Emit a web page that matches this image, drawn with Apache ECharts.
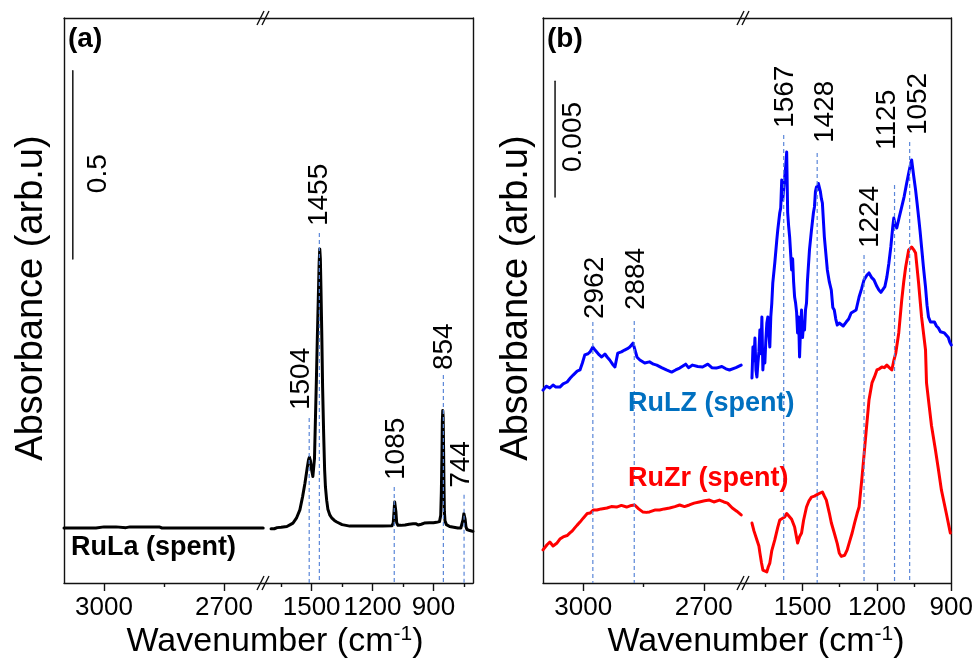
<!DOCTYPE html>
<html><head><meta charset="utf-8">
<script src="https://cdn.jsdelivr.net/npm/echarts@6/dist/echarts.min.js"></script>
<style>html,body{margin:0;padding:0;background:#fff}#main{width:976px;height:665px}</style>
</head><body><div id="main"></div>
<script>
// ---------------- DATA ----------------
// Panel (a): RuLa (spent), high-wavenumber segment and fingerprint segment
const ruLaHigh = [[3100,0.146],[3060,0.146],[3020,0.146],[3000,0.149],[2970,0.149],[2945,0.147],[2935,0.149],[2900,0.149],[2862,0.149],[2855,0.146],[2800,0.146],[2700,0.146],[2650,0.146],[2602,0.146]];
const ruLaLow = [[1700,0.144],[1692,0.141],[1684,0.144],[1670,0.147],[1650,0.148],[1622,0.150],[1605,0.155],[1592,0.159],[1575,0.172],[1558,0.194],[1545,0.228],[1533,0.265],[1522,0.305],[1515,0.328],[1511,0.334],[1506,0.325],[1500,0.300],[1494,0.283],[1490,0.280],[1486,0.330],[1482,0.420],[1477,0.530],[1472,0.650],[1467,0.760],[1463,0.850],[1460,0.887],[1457,0.860],[1454,0.780],[1450,0.660],[1446,0.520],[1441,0.400],[1436,0.300],[1432,0.255],[1426,0.220],[1420,0.196],[1410,0.180],[1400,0.172],[1388,0.166],[1376,0.162],[1350,0.155],[1312,0.151],[1250,0.151],[1150,0.151],[1104,0.152],[1098,0.160],[1094,0.190],[1091,0.215],[1088,0.214],[1085,0.190],[1081,0.160],[1075,0.153],[1060,0.153],[1040,0.154],[1020,0.156],[1000,0.157],[985,0.157],[975,0.154],[968,0.159],[960,0.156],[945,0.159],[920,0.160],[900,0.160],[885,0.161],[870,0.163],[864,0.180],[861,0.240],[858,0.340],[856,0.430],[854,0.458],[852,0.440],[850,0.360],[848,0.260],[846,0.190],[843,0.165],[836,0.155],[820,0.150],[800,0.148],[780,0.146],[765,0.146],[758,0.150],[754,0.168],[750,0.184],[747,0.186],[744,0.170],[740,0.150],[735,0.142],[725,0.140],[712,0.138],[705,0.137]];

// Panel (b): RuLZ (spent) and RuZr (spent)
const ruLZHigh = [[3100,0.00833],[3092,0.00850],[3083,0.00842],[3075,0.00855],[3068,0.00846],[3058,0.00846],[3050,0.00860],[3040,0.00868],[3032,0.00885],[3025,0.00898],[3015,0.00915],[3008,0.00920],[3002,0.00950],[2996,0.00985],[2988,0.00990],[2983,0.00998],[2976,0.01019],[2970,0.01005],[2966,0.00998],[2960,0.00985],[2954,0.00976],[2946,0.00989],[2940,0.00975],[2934,0.00963],[2927,0.00945],[2921,0.00933],[2914,0.00993],[2905,0.00998],[2897,0.01006],[2890,0.01012],[2884,0.01019],[2876,0.01036],[2872,0.01030],[2866,0.00975],[2859,0.00963],[2847,0.00950],[2835,0.00955],[2825,0.00945],[2817,0.00941],[2805,0.00930],[2793,0.00920],[2780,0.00911],[2770,0.00920],[2760,0.00928],[2745,0.00945],[2738,0.00930],[2728,0.00941],[2715,0.00935],[2703,0.00933],[2690,0.00945],[2680,0.00930],[2669,0.00928],[2655,0.00935],[2645,0.00925],[2636,0.00920],[2620,0.00930],[2607,0.00941]];
const ruLZLow = [[1704,0.00885],[1700,0.01019],[1696,0.00960],[1692,0.01058],[1688,0.00920],[1684,0.00890],[1680,0.00950],[1676,0.01000],[1672,0.01093],[1668,0.00990],[1664,0.01149],[1660,0.00920],[1656,0.01000],[1652,0.00950],[1648,0.01050],[1644,0.01123],[1640,0.01149],[1636,0.01080],[1632,0.01019],[1628,0.01150],[1624,0.01209],[1620,0.01296],[1612,0.01382],[1604,0.01480],[1600,0.01524],[1592,0.01598],[1588,0.01620],[1584,0.01740],[1580,0.01654],[1576,0.01700],[1572,0.01753],[1568,0.01800],[1564,0.01861],[1560,0.01600],[1556,0.01540],[1552,0.01494],[1544,0.01352],[1540,0.01400],[1536,0.01300],[1532,0.01235],[1528,0.01209],[1524,0.01170],[1520,0.01080],[1516,0.01149],[1512,0.00976],[1508,0.01100],[1504,0.01179],[1500,0.01060],[1496,0.01120],[1492,0.01093],[1488,0.01180],[1484,0.01209],[1480,0.01309],[1472,0.01440],[1464,0.01524],[1456,0.01600],[1452,0.01624],[1448,0.01690],[1444,0.01710],[1440,0.01700],[1436,0.01725],[1432,0.01719],[1428,0.01690],[1424,0.01660],[1420,0.01641],[1412,0.01494],[1400,0.01352],[1392,0.01300],[1384,0.01265],[1378,0.01190],[1372,0.01179],[1366,0.01140],[1360,0.01114],[1352,0.01123],[1344,0.01123],[1336,0.01110],[1324,0.01127],[1314,0.01140],[1304,0.01166],[1296,0.01160],[1284,0.01179],[1272,0.01235],[1262,0.01270],[1252,0.01309],[1240,0.01330],[1232,0.01339],[1222,0.01320],[1212,0.01309],[1200,0.01280],[1192,0.01265],[1184,0.01255],[1176,0.01257],[1168,0.01280],[1160,0.01321],[1152,0.01380],[1144,0.01451],[1136,0.01540],[1132,0.01576],[1126,0.01545],[1120,0.01533],[1110,0.01580],[1100,0.01624],[1090,0.01670],[1080,0.01727],[1070,0.01780],[1064,0.01810],[1060,0.01827],[1052,0.01760],[1044,0.01697],[1038,0.01640],[1032,0.01581],[1026,0.01520],[1020,0.01451],[1012,0.01360],[1004,0.01278],[998,0.01200],[992,0.01149],[984,0.01127],[976,0.01120],[968,0.01127],[960,0.01110],[952,0.01101],[944,0.01085],[936,0.01093],[928,0.01080],[920,0.01080],[912,0.01060],[906,0.01040],[900,0.01028]];
const ruZrHigh = [[3100,0.00143],[3090,0.00165],[3083,0.00177],[3075,0.00160],[3065,0.00173],[3058,0.00190],[3050,0.00199],[3040,0.00205],[3033,0.00216],[3027,0.00225],[3021,0.00238],[3015,0.00250],[3008,0.00263],[3000,0.00280],[2996,0.00285],[2990,0.00300],[2983,0.00302],[2975,0.00315],[2966,0.00315],[2955,0.00320],[2941,0.00324],[2930,0.00330],[2917,0.00328],[2905,0.00335],[2892,0.00328],[2880,0.00335],[2872,0.00337],[2862,0.00320],[2852,0.00307],[2843,0.00305],[2835,0.00307],[2822,0.00315],[2810,0.00315],[2798,0.00320],[2785,0.00324],[2772,0.00330],[2760,0.00337],[2748,0.00330],[2736,0.00337],[2724,0.00345],[2711,0.00350],[2698,0.00355],[2686,0.00358],[2675,0.00350],[2661,0.00358],[2650,0.00350],[2641,0.00345],[2629,0.00324],[2618,0.00310],[2607,0.00294]];
const ruZrLow = [[1704,0.00259],[1696,0.00225],[1684,0.00186],[1676,0.00160],[1672,0.00130],[1666,0.00090],[1660,0.00056],[1652,0.00060],[1644,0.00048],[1638,0.00070],[1632,0.00086],[1624,0.00140],[1612,0.00186],[1600,0.00240],[1592,0.00272],[1584,0.00280],[1572,0.00285],[1564,0.00300],[1556,0.00290],[1552,0.00294],[1544,0.00275],[1532,0.00242],[1520,0.00173],[1512,0.00200],[1504,0.00216],[1496,0.00270],[1484,0.00328],[1474,0.00355],[1464,0.00371],[1452,0.00375],[1444,0.00380],[1436,0.00385],[1428,0.00390],[1420,0.00393],[1412,0.00375],[1404,0.00358],[1392,0.00302],[1384,0.00260],[1372,0.00216],[1360,0.00170],[1352,0.00130],[1344,0.00115],[1340,0.00108],[1330,0.00120],[1320,0.00143],[1310,0.00180],[1300,0.00216],[1290,0.00260],[1280,0.00300],[1272,0.00328],[1260,0.00458],[1244,0.00648],[1232,0.00790],[1220,0.00864],[1210,0.00890],[1200,0.00920],[1190,0.00925],[1180,0.00933],[1170,0.00930],[1160,0.00941],[1150,0.00930],[1140,0.00920],[1132,0.00960],[1124,0.00993],[1112,0.01080],[1100,0.01222],[1092,0.01300],[1084,0.01365],[1072,0.01438],[1060,0.01451],[1052,0.01440],[1044,0.01425],[1032,0.01296],[1020,0.01149],[1004,0.01006],[1000,0.00864],[992,0.00790],[980,0.00680],[964,0.00574],[952,0.00490],[940,0.00402],[920,0.00300],[904,0.00216]];

// Peak markers: label text, drawn line position (cm-1), line top (absorbance)
const peakLabelsA = ['1504','1455','1085','854','744'];
const peakLinePosA = [1512, 1462, 1093, 851, 749];
const peakLineTopA = [0.438, 0.929, 0.255, 0.552, 0.234];
const peakLabelsBHigh = ['2962','2884'];
const peakLinePosBHigh = [2976, 2873];
const peakLineTopBHigh = [0.01127, 0.01131];
const peakLabelsBLow = ['1567','1428','1224','1125','1052'];
const peakLinePosBLow = [1576, 1441, 1252, 1129, 1068];
const peakLineTopBLow = [0.01935, 0.01857, 0.01416, 0.01719, 0.01904];

// Scale bars
const scaleBarA = [[3078, 0.860], [3078, 1.360]];
const scaleBarB = [[3070, 0.01667], [3070, 0.02167]];

// Axis ticks
const majorTicks = [[2700, 3000], [900, 1200, 1500], [2700, 3000], [900, 1200, 1500]];
const minorTicks = [[2850], [750, 1050, 1350, 1650], [2850], [1050, 1350, 1650]];
const xRanges = [[2590, 3100], [705, 1715], [2590, 3100], [900, 1720]];
const yRanges = [[0, 1.5], [0, 1.5], [0, 0.0244], [0, 0.0244]];

// ---------------- STYLE / LAYOUT ----------------
const FONT = '"Liberation Sans", Arial, Helvetica, sans-serif';
const grids = [
  {left: 64, top: 18, width: 204, height: 565},
  {left: 268, top: 18, width: 205, height: 565},
  {left: 543, top: 18, width: 205, height: 565},
  {left: 748, top: 18, width: 205, height: 565}
];
const AX = {color: '#111', width: 1.4};
// label placement relative to each line top: [dx px, gap px]
const labOffA = [[-8, 8], [0, 7], [2, 7], [1, 5], [-3, 7]];
const labOffBHigh = [[2, 3], [2, 11]];
const labOffBLow = [[2, 7], [8, 10], [6, 7], [-7, 35], [9, 7]];
const DASH = {color: '#5a86d8', width: 1.2, type: [4, 3]};

const xAxis = [], yAxis = [];
grids.forEach((g, i) => {
  const base = {type: 'value', gridIndex: i, min: xRanges[i][0], max: xRanges[i][1], inverse: true, splitLine: {show: false}};
  xAxis.push(Object.assign({}, base, {position: 'bottom',
    axisLine: {show: true, onZero: false, lineStyle: AX},
    axisTick: {show: true, length: 8, customValues: majorTicks[i], lineStyle: AX},
    axisLabel: {show: true, customValues: majorTicks[i], fontSize: 26, color: '#000', fontFamily: FONT, margin: 12,
      formatter: v => String(v)}}));
  xAxis.push(Object.assign({}, base, {position: 'bottom',
    axisLine: {show: false, onZero: false},
    axisTick: {show: true, length: 4, customValues: minorTicks[i], lineStyle: AX},
    axisLabel: {show: false}}));
  xAxis.push(Object.assign({}, base, {position: 'top',
    axisLine: {show: true, onZero: false, lineStyle: AX},
    axisTick: {show: false}, axisLabel: {show: false}}));
  yAxis.push({type: 'value', gridIndex: i, min: yRanges[i][0], max: yRanges[i][1],
    position: (i % 2 === 0) ? 'left' : 'right',
    axisLine: {show: true, onZero: false, lineStyle: AX},
    axisTick: {show: false}, axisLabel: {show: false}, splitLine: {show: false}});
});

const series = [];
function curve(data, gi, color, w) {
  series.push({type: 'line', xAxisIndex: gi * 3, yAxisIndex: gi, data: data, symbol: 'none', showSymbol: false,
    lineStyle: {color: color, width: w || 3, join: 'round', cap: 'round'}, animation: false, silent: true, z: 3});
  return series.length - 1;
}
function dashLines(pos, tops, gi) {
  pos.forEach((p, k) => {
    series.push({type: 'line', xAxisIndex: gi * 3, yAxisIndex: gi, data: [[p, tops[k]], [p, yRanges[gi][0]]],
      symbol: 'none', lineStyle: DASH, animation: false, silent: true, z: 5});
  });
}
const sA0 = curve(ruLaHigh, 0, '#000');
const sA1 = curve(ruLaLow, 1, '#000');
curve(scaleBarA, 0, '#222', 1.6);
const sB0 = curve(ruLZHigh, 2, '#0000ff');
curve(ruZrHigh, 2, '#ff0000');
const sB1 = curve(ruLZLow, 3, '#0000ff');
curve(ruZrLow, 3, '#ff0000');
curve(scaleBarB, 2, '#222', 1.6);
dashLines(peakLinePosA, peakLineTopA, 1);
dashLines(peakLinePosBHigh, peakLineTopBHigh, 2);
dashLines(peakLinePosBLow, peakLineTopBLow, 3);

const chart = echarts.init(document.getElementById('main'));
chart.setOption({animation: false, grid: grids, xAxis: xAxis, yAxis: yAxis, series: series});

// ---------------- ANNOTATIONS ----------------
const gfx = [];
function vText(x, y, text, size, align, weight) {
  gfx.push({type: 'text', x: x, y: y, rotation: Math.PI / 2, silent: true, z: 20,
    style: {text: text, font: (weight || 'normal') + ' ' + size + 'px ' + FONT, fill: '#000',
      align: align || 'left', verticalAlign: 'middle', textAlign: align || 'left', textVerticalAlign: 'middle'}});
}
function hText(x, y, text, size, color, weight, align) {
  gfx.push({type: 'text', x: x, y: y, silent: true, z: 20,
    style: {text: text, font: (weight || 'normal') + ' ' + size + 'px ' + FONT, fill: color || '#000',
      align: align || 'left', verticalAlign: 'middle', textAlign: align || 'left', textVerticalAlign: 'middle'}});
}
function peakTexts(labels, pos, tops, offs, sIdx) {
  labels.forEach((t, k) => {
    const p = chart.convertToPixel({seriesIndex: sIdx}, [pos[k], tops[k]]);
    vText(p[0] + offs[k][0], p[1] - offs[k][1], t, 28);
  });
}
peakTexts(peakLabelsA, peakLinePosA, peakLineTopA, labOffA, sA1);
peakTexts(peakLabelsBHigh, peakLinePosBHigh, peakLineTopBHigh, labOffBHigh, sB0);
peakTexts(peakLabelsBLow, peakLinePosBLow, peakLineTopBLow, labOffBLow, sB1);

// scale-bar labels
let p = chart.convertToPixel({seriesIndex: sA0}, [3015, 1.035]);
vText(p[0], p[1], '0.5', 28);
p = chart.convertToPixel({seriesIndex: sB0}, [3025, 0.01775]);
vText(p[0], p[1], '0.005', 28);

// panel tags & sample names
hText(68, 39, '(a)', 28, '#000', 'bold');
hText(547, 39, '(b)', 28, '#000', 'bold');
hText(71, 548, 'RuLa (spent)', 27, '#000', 'bold');
hText(628, 404, 'RuLZ (spent)', 27, '#0070C0', 'bold');
hText(628, 479, 'RuZr (spent)', 27, '#ff0000', 'bold');

// axis titles
[275, 756].forEach(cx => {
  gfx.push({type: 'text', x: cx, y: 642, silent: true, z: 20,
    style: {text: '{a|Wavenumber (cm}{s|-1}{a|)}', fill: '#000', align: 'center', verticalAlign: 'middle',
      textAlign: 'center', textVerticalAlign: 'middle',
      rich: {a: {fontSize: 34, fontFamily: FONT, fill: '#000', color: '#000'},
             s: {fontSize: 21, fontFamily: FONT, fill: '#000', color: '#000', padding: [0, 0, 15, 0]}}}});
});
[32, 517].forEach(cx => vText(cx, 298, 'Absorbance (arb.u)', 38, 'center'));

// axis break marks
[[1, sA1], [3, sB1]].forEach(([gi, si]) => {
  const bx = chart.convertToPixel({seriesIndex: si}, [xRanges[gi][1], yRanges[gi][1]]);
  const by = chart.convertToPixel({seriesIndex: si}, [xRanges[gi][1], yRanges[gi][0]]);
  [bx[1], by[1]].forEach(yy => {
    [-5, 0].forEach(dx => {
      gfx.push({type: 'line', silent: true, z: 21,
        shape: {x1: bx[0] + dx - 6, y1: yy + 7, x2: bx[0] + dx + 1, y2: yy - 7},
        style: {stroke: '#111', lineWidth: 1.4}});
    });
  });
});
chart.setOption({graphic: gfx});
</script></body></html>
